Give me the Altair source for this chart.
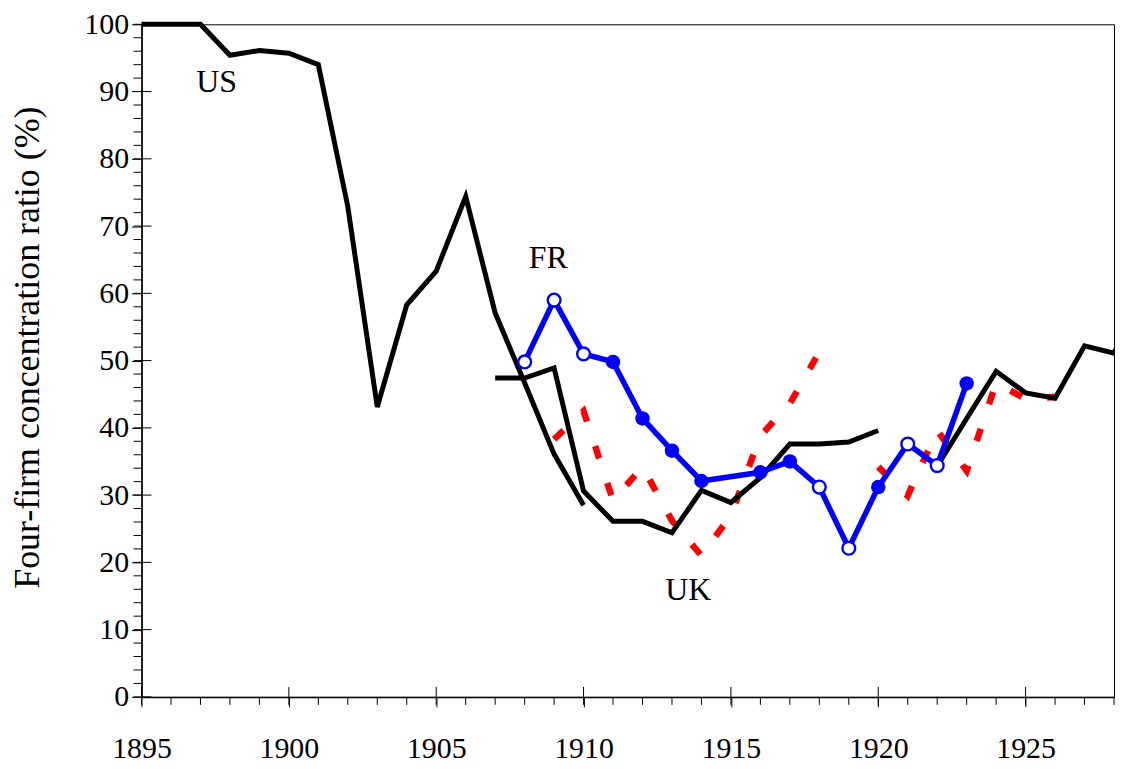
import altair as alt
import pandas as pd

# ---- data ----
us_a_years = list(range(1895, 1911))
us_a = [100, 100, 100, 95.4, 96.1, 95.7, 94.0, 72.9, 43.1, 58.3, 63.3, 74.4, 57.1, 46.7, 36.1, 28.5]
us_b_years = list(range(1907, 1921))
us_b = [47.4, 47.4, 48.9, 30.6, 26.1, 26.1, 24.4, 30.7, 28.9, 32.6, 37.6, 37.6, 37.9, 39.6]
us_c_years = list(range(1922, 1930))
us_c = [34.3, 41.4, 48.4, 45.2, 44.4, 52.2, 51.1, 59.5]

fr_years = [1908, 1909, 1910, 1911, 1912, 1913, 1914, 1916, 1917, 1918, 1919, 1920, 1921, 1922, 1923]
fr = [49.8, 59.0, 51.0, 49.8, 41.4, 36.6, 32.1, 33.4, 35.0, 31.2, 22.1, 31.2, 37.6, 34.4, 46.6]
fr_open = [1, 1, 1, 0, 0, 0, 0, 0, 0, 1, 1, 0, 1, 1, 0]

uk_a_years = list(range(1909, 1919))
uk_a = [38.3, 42.5, 29.2, 34.2, 26.2, 21.0, 27.0, 38.8, 43.6, 51.3]
uk_b_years = list(range(1920, 1927))
uk_b = [34.2, 29.9, 39.6, 33.6, 46.7, 44.3, 44.6]

label_text = ["US", "FR", "UK"]
label_year = [1897.55, 1908.8, 1913.55]
label_value = [91.4, 65.2, 15.9]

x_major = [1895, 1900, 1905, 1910, 1915, 1920, 1925]
x_minor = list(range(1895, 1929))
y_major = list(range(0, 101, 10))
y_minor = list(range(0, 101, 2))

# ---- tables ----
black_df = pd.concat([
    pd.DataFrame({"year": us_a_years, "value": us_a, "seg": "a"}),
    pd.DataFrame({"year": us_b_years, "value": us_b, "seg": "b"}),
])
black_c_df = pd.DataFrame({"year": us_c_years, "value": us_c, "seg": "c"})
fr_df = pd.DataFrame({"year": fr_years, "value": fr, "open": fr_open})
uk_df = pd.concat([
    pd.DataFrame({"year": uk_a_years, "value": uk_a, "seg": "a"}),
    pd.DataFrame({"year": uk_b_years, "value": uk_b, "seg": "b"}),
])
lab_df = pd.DataFrame({"year": label_year, "value": label_value, "text": label_text})

FONT = "Liberation Serif"

x_axis = alt.Axis(values=x_major, format="d", title=None, grid=False,
                  labelFont=FONT, labelFontSize=30, labelColor="black",
                  tickColor="black", tickSize=10, tickWidth=1,
                  domainColor="black", domainWidth=1.5, labelPadding=27,
                  labelFlush=False, labelOverlap=False)
y_axis = alt.Axis(values=y_major, format="d", title="Four-firm concentration ratio (%)",
                  grid=False, labelFont=FONT, labelFontSize=30, labelColor="black",
                  tickColor="black", tickSize=10, tickWidth=1,
                  domainColor="black", domainWidth=1.5, labelPadding=3,
                  labelFlush=False, labelOverlap=False,
                  titleFont=FONT, titleFontSize=36, titleFontWeight="normal",
                  titleColor="black", titleAngle=270, titleAlign="center",
                  titleBaseline="middle", titleX=-114, titleY=324)

X = alt.X("year:Q", scale=alt.Scale(domain=[1895, 1928], nice=False, zero=False), axis=x_axis)
Y = alt.Y("value:Q", scale=alt.Scale(domain=[0, 100], nice=False, zero=False), axis=y_axis)

red = alt.Chart(uk_df).mark_line(color="#FF0000", strokeWidth=6.5, strokeDash=[13, 26]).encode(
    x=X, y=Y, detail="seg:N")
black = alt.Chart(black_df).mark_line(color="black", strokeWidth=5).encode(
    x=X, y=Y, detail="seg:N")
black_c = alt.Chart(black_c_df).mark_line(color="black", strokeWidth=5, clip=True).encode(
    x=X, y=Y)
blue = alt.Chart(fr_df).mark_line(color="#0000FF", strokeWidth=5.5).encode(x=X, y=Y)
blue_filled = alt.Chart(fr_df).transform_filter("datum.open == 0").mark_circle(
    color="#0000FF", size=210, opacity=1).encode(x=X, y=Y)
blue_open = alt.Chart(fr_df).transform_filter("datum.open == 1").mark_point(
    filled=True, fill="white", stroke="#0000FF", strokeWidth=2.4, size=165, opacity=1).encode(x=X, y=Y)
labels = alt.Chart(lab_df).mark_text(font=FONT, fontSize=32, color="black",
                                     align="center", baseline="middle").encode(
    x=X, y=Y, text="text:N")

xminor = alt.Chart(pd.DataFrame({"year": x_minor})).mark_rule(color="black", strokeWidth=1).encode(
    x=X, y=alt.value(675), y2=alt.value(683))
xmajor_in = alt.Chart(pd.DataFrame({"year": x_major})).mark_rule(color="black", strokeWidth=1).encode(
    x=X, y=alt.value(665), y2=alt.value(675))
yminor = alt.Chart(pd.DataFrame({"value": y_minor})).mark_rule(color="black", strokeWidth=1).encode(
    y=Y, x=alt.value(-8), x2=alt.value(0))
ymajor_in = alt.Chart(pd.DataFrame({"value": y_major})).mark_rule(color="black", strokeWidth=1).encode(
    y=Y, x=alt.value(0), x2=alt.value(10))

chart = alt.layer(
    xminor, xmajor_in, yminor, ymajor_in,
    red, black, black_c, blue, blue_open, blue_filled, labels
).properties(
    width=976, height=675,
    autosize=alt.AutoSizeParams(type="none"),
    padding={"left": 134, "top": 15, "right": 3, "bottom": 67},
    background="white",
).configure_view(stroke="black", strokeWidth=1).configure_axis(labelFont=FONT, titleFont=FONT)

chart.save("out.html", embed_options={"renderer": "svg", "actions": False})
